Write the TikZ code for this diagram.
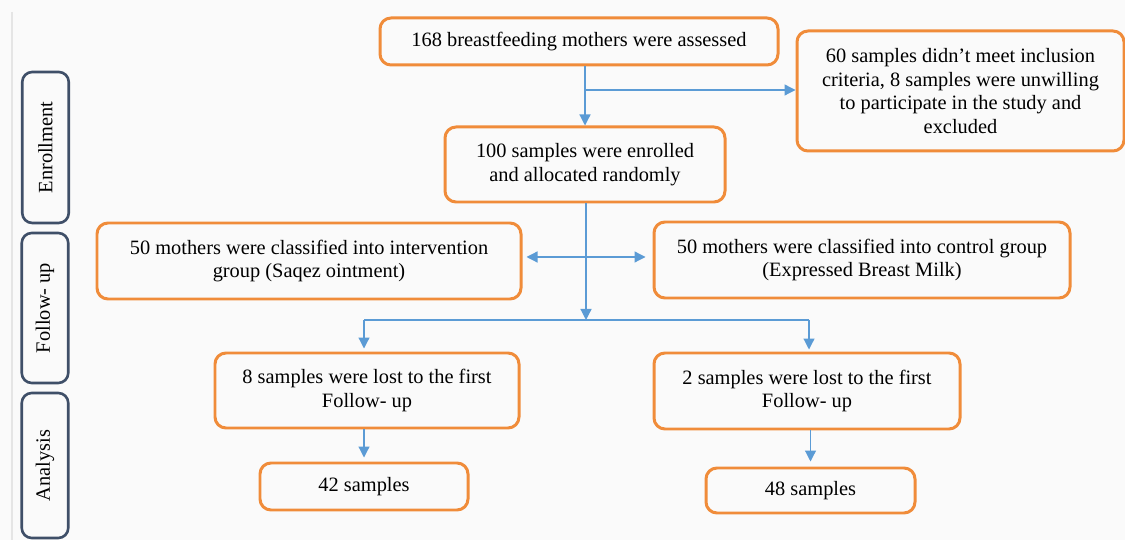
\documentclass[tikz,border=0pt]{standalone}
\usepackage{fontspec}
\setmainfont{Liberation Serif}
\usetikzlibrary{arrows.meta,calc}
\definecolor{boxorange}{HTML}{F08C3A}
\definecolor{linkblue}{HTML}{5B9BD5}
\definecolor{phasenavy}{HTML}{3F4F68}
\newcommand{\phaselabel}[4]{% rotated phase label #2 named #1 centered at (#3), length #4
  \node[phase, minimum width=#4] (#1) at (#3) {#2};
}
\begin{document}
\begin{tikzpicture}[x=1cm,y=1cm,
  flow/.style={draw=boxorange, line width=1.7pt, rounded corners=0.22cm, align=center,
    font=\fontsize{11.6}{13.6}\selectfont, inner sep=2pt},
  phase/.style={draw=phasenavy, line width=1.5pt, rounded corners=0.2cm, rotate=90,
    minimum height=0.93cm, font=\fontsize{11.6}{13.6}\selectfont},
  link/.style={draw=linkblue, line width=0.7pt},
  arr/.style={link, -{Triangle[length=0.22cm,width=0.22cm]}}]
  \useasboundingbox (0,0) rectangle (22.5,10.8);
  \fill[white!98!black] (0,0) rectangle (22.5,10.8);
  \draw[black!10, line width=1pt] (0.24,10.56) -- (0.24,0);
  % phases on the left
  \phaselabel{enrl}{Enrollment}{0.91,7.85}{3.02cm}
  \phaselabel{foll}{Follow- up}{0.90,4.64}{3.0cm}
  \phaselabel{anl}{Analysis}{0.90,1.49}{2.9cm}
  % boxes
  \node[flow, minimum width=7.96cm, minimum height=0.94cm] (top) at (11.58,9.97)
    {168 breastfeeding mothers were assessed};
  \node[flow, minimum width=6.54cm, minimum height=2.4cm] (excl) at (19.21,8.98)
    {60 samples didn’t meet inclusion\\criteria, 8 samples were unwilling\\to participate in the study and\\excluded};
  \node[flow, minimum width=5.6cm, minimum height=1.5cm] (enr) at (11.70,7.51)
    {100 samples were enrolled\\and allocated randomly};
  \node[flow, minimum width=8.48cm, minimum height=1.52cm] (intv) at (6.18,5.58)
    {50 mothers were classified into intervention\\group (Saqez ointment)};
  \node[flow, minimum width=8.32cm, minimum height=1.52cm] (ctrl) at (17.24,5.60)
    {50 mothers were classified into control group\\(Expressed Breast Milk)};
  \node[flow, minimum width=6.08cm, minimum height=1.5cm] (lostL) at (7.34,2.99)
    {8 samples were lost to the first\\Follow- up};
  \node[flow, minimum width=6.12cm, minimum height=1.52cm] (lostR) at (16.14,2.98)
    {2 samples were lost to the first\\Follow- up};
  \node[flow, minimum width=4.16cm, minimum height=0.94cm] (n42) at (7.28,1.07) {42 samples};
  \node[flow, minimum width=4.18cm, minimum height=0.9cm] (n48) at (16.21,0.99) {48 samples};
  % connectors
  \coordinate (br) at (11.70,9.0);
  \coordinate (mid) at (11.72,5.66);
  \coordinate (sp) at (11.72,4.40);
  \coordinate (jl) at (7.28,4.40);
  \coordinate (jr) at (16.18,4.40);
  \draw[arr] (top.south -| enr) -- (enr.north);
  \draw[arr] (br) -- (br -| excl.west);
  \draw[arr] (enr.south -| sp) -- (sp);
  \draw[link, {Triangle[length=0.22cm,width=0.22cm]}-{Triangle[length=0.22cm,width=0.22cm]},
    shorten <=0.08cm, shorten >=0.14cm] (mid -| intv.east) -- (mid -| ctrl.west);
  \draw[link] (jl) -- (jr);
  \draw[arr, shorten >=0.06cm] (jl) -- (jl |- lostL.north);
  \draw[arr, shorten >=0.04cm] (jr) -- (jr |- lostR.north);
  \draw[arr, shorten >=0.08cm] (lostL.south -| n42) -- (n42.north);
  \draw[arr, shorten >=0.1cm] (lostR.south -| n48) -- (n48.north);
\end{tikzpicture}
\end{document}
